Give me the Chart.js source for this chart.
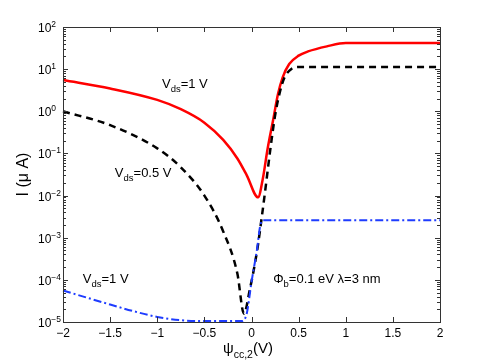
<!DOCTYPE html>
<html>
<head>
<meta charset="utf-8">
<script src="https://cdn.jsdelivr.net/npm/chart.js@4.4.0/dist/chart.umd.min.js"></script>
<style>
  html, body { margin: 0; padding: 0; background: #fff; }
</style>
</head>
<body>
<canvas id="myChart" width="485" height="364"></canvas>
<script>
// red solid curve, Vds = 1 V
const redX = [-2, -1.5, -1.0, -0.75, -0.5, -0.3, -0.15, -0.05, 0.07, 0.12, 0.17, 0.23, 0.28, 0.33, 0.4, 0.5, 0.6, 0.8, 1.0, 2.0];
const redY = [5.5, 3.47, 1.86, 1.12, 0.537, 0.209, 0.0759, 0.0302, 0.0091, 0.025, 0.126, 0.63, 2.5, 6.3, 13.2, 20.9, 26.3, 34.7, 41.7, 41.7];

// black dashed curve, Vds = 0.5 V
const blackX = [-2, -1.5, -1.0, -0.75, -0.5, -0.3, -0.15, -0.08, -0.02, 0.06, 0.11, 0.15, 0.2, 0.25, 0.3, 0.35, 0.42, 0.5, 2.0];
const blackY = [1.0, 0.468, 0.132, 0.0468, 0.01, 0.00141, 0.000141, 0.0000158, 0.000056, 0.0005, 0.0032, 0.0158, 0.126, 0.79, 2.8, 6.3, 10, 11.2, 11.2];

// blue dash-dot curve, Vds = 1 V
const blueX = [-2, -1.75, -1.5, -1.25, -1.0, -0.75, -0.5, -0.1, -0.05, 0.0, 0.06, 0.09, 0.12, 2.0];
const blueY = [5.6e-5, 3.8e-5, 2.6e-5, 1.8e-5, 1.32e-5, 1.1e-5, 1.05e-5, 1.05e-5, 1.6e-5, 8.9e-5, 5.6e-4, 1.8e-3, 2.6e-3, 2.6e-3];

const xTicks = [-2, -1.5, -1, -0.5, 0, 0.5, 1, 1.5, 2];
const yExponents = [-5, -4, -3, -2, -1, 0, 1, 2];

const FONT = "'Liberation Sans', Arial, sans-serif";

function pts(xs, ys) {
  return xs.map((x, i) => ({ x: x, y: ys[i] }));
}

// text labels inside the plot: [main, sub, rest] at a data position (left edge, middle)
const notes = [
  { parts: ["V", "ds", "=1 V"], x: -0.95, y: 4.7 },
  { parts: ["V", "ds", "=0.5 V"], x: -1.45, y: 0.036 },
  { parts: ["V", "ds", "=1 V"], x: -1.79, y: 1.1e-4 },
  { parts: ["\u03A6", "b", "=0.1 eV \u03BB=3 nm"], x: 0.23, y: 1.1e-4 },
];

function sup(n) {
  return String(n).replace("-", "\u2212");
}

const frame = {
  id: "frame",
  afterDatasetsDraw(chart) {
    const ctx = chart.ctx;
    const a = chart.chartArea;
    const xs = chart.scales.x;
    const ys = chart.scales.y;
    ctx.save();
    ctx.strokeStyle = "#333";
    ctx.lineWidth = 1;
    ctx.strokeRect(Math.round(a.left) + 0.5, Math.round(a.top) + 0.5,
      Math.round(a.right - a.left), Math.round(a.bottom - a.top));

    ctx.beginPath();
    // x ticks, bottom and top, inward
    xTicks.forEach((v) => {
      const px = Math.round(xs.getPixelForValue(v)) + 0.5;
      ctx.moveTo(px, a.bottom); ctx.lineTo(px, a.bottom - 5);
      ctx.moveTo(px, a.top); ctx.lineTo(px, a.top + 5);
    });
    // y ticks, major and minor, on both sides
    yExponents.forEach((e) => {
      for (let m = 1; m <= 9; m++) {
        if (e === 2 && m > 1) break;
        const py = Math.round(ys.getPixelForValue(m * Math.pow(10, e))) + 0.5;
        const len = m === 1 ? 5 : 3;
        ctx.moveTo(a.left, py); ctx.lineTo(a.left + len, py);
        ctx.moveTo(a.right, py); ctx.lineTo(a.right - len, py);
      }
    });
    ctx.stroke();

    // y tick labels 10^n
    ctx.fillStyle = "#000";
    ctx.textBaseline = "alphabetic";
    ctx.textAlign = "left";
    yExponents.forEach((e) => {
      const py = ys.getPixelForValue(Math.pow(10, e));
      ctx.font = "12px " + FONT;
      ctx.fillText("10", 38, py + 5);
      const w = ctx.measureText("10").width;
      ctx.font = "8.5px " + FONT;
      ctx.fillText(sup(e), 38 + w, py);
    });

    // notes
    notes.forEach((n) => {
      let px = xs.getPixelForValue(n.x);
      const py = ys.getPixelForValue(n.y);
      ctx.font = "13px " + FONT;
      ctx.fillText(n.parts[0], px, py + 5);
      px += ctx.measureText(n.parts[0]).width;
      ctx.font = "9.5px " + FONT;
      ctx.fillText(n.parts[1], px, py + 9);
      px += ctx.measureText(n.parts[1]).width;
      ctx.font = "13px " + FONT;
      ctx.fillText(n.parts[2], px, py + 5);
    });

    // x title
    let tx = 223;
    ctx.font = "15px " + FONT;
    ctx.fillText("\u03C8", tx, 353);
    tx += ctx.measureText("\u03C8").width;
    ctx.font = "10.5px " + FONT;
    ctx.fillText("cc,2", tx, 358);
    tx += ctx.measureText("cc,2").width;
    ctx.font = "15px " + FONT;
    ctx.fillText("(V)", tx, 353);

    // y title
    ctx.translate(24, (a.top + a.bottom) / 2);
    ctx.rotate(-Math.PI / 2);
    ctx.textAlign = "center";
    ctx.textBaseline = "middle";
    ctx.font = "16px " + FONT;
    ctx.fillText("I (\u03BC A)", 0, 0);
    ctx.restore();
  },
};

const line = {
  pointRadius: 0,
  fill: false,
  cubicInterpolationMode: "monotone",
  clip: false,
};

new Chart(document.getElementById("myChart").getContext("2d"), {
  type: "line",
  data: {
    datasets: [
      Object.assign({ data: pts(blueX, blueY), borderColor: "rgb(30,60,255)", borderWidth: 2, borderDash: [8, 3, 2, 3] }, line),
      Object.assign({ data: pts(blackX, blackY), borderColor: "#000", borderWidth: 2.5, borderDash: [7, 5] }, line),
      Object.assign({ data: pts(redX, redY), borderColor: "#ff0000", borderWidth: 2.5 }, line),
    ],
  },
  options: {
    responsive: false,
    animation: false,
    layout: { padding: { top: 27, right: 45, left: 0, bottom: 0 } },
    plugins: { legend: { display: false }, tooltip: { enabled: false } },
    scales: {
      x: {
        type: "linear",
        min: -2,
        max: 2,
        grid: { display: false, drawTicks: false },
        border: { display: false },
        ticks: {
          stepSize: 0.5,
          autoSkip: false,
          maxRotation: 0,
          padding: 4,
          color: "#000",
          font: { family: FONT, size: 12 },
          callback: (v) => sup(v),
        },
        afterFit: (s) => { s.height = 42; },
      },
      y: {
        type: "logarithmic",
        min: 1e-5,
        max: 100,
        grid: { display: false, drawTicks: false },
        border: { display: false },
        ticks: { display: false },
        afterFit: (s) => { s.width = 63; },
      },
    },
  },
  plugins: [frame],
});
</script>
</body>
</html>
